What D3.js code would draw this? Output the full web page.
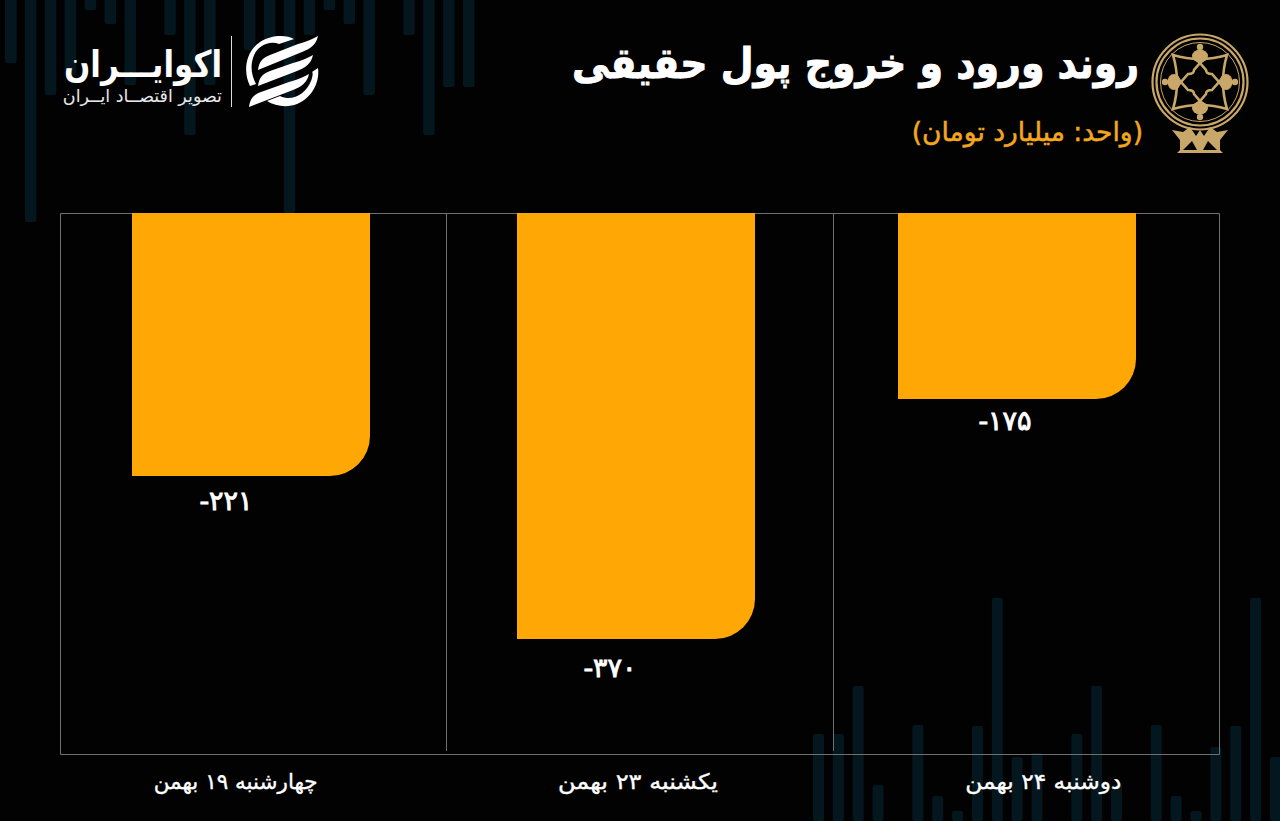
<!DOCTYPE html>
<html lang="fa"><head><meta charset="utf-8">
<script src="https://cdn.jsdelivr.net/npm/d3@7/dist/d3.min.js"></script>
<style>
html,body{margin:0;padding:0;background:#020202;overflow:hidden}
svg{display:block}
text{font-family:"DejaVu Sans","Noto Sans",sans-serif}
</style></head><body><div id="c"></div>
<script>
// Data
const days = ["چهارشنبه ۱۹ بهمن", "یکشنبه ۲۳ بهمن", "دوشنبه ۲۴ بهمن"];
const netFlow = [-221, -370, -175];
const valueLabels = ["\u200E-۲۲۱", "\u200E-۳۷۰", "\u200E-۱۷۵"];
// Layout nudges (the reference places its bars and labels off the band centres)
const barNudge = [0, 2, 0];
const valueNudge = [-25, -24, -12];
const valueDrop = [34, 38, 31];
const dayNudge = [-18, -2, 17];
const dayWidths = [164, 160, 156];
// Decorative background candles: bottom y of top row, top y of bottom row
const topCandleEnds = [63,222,95,75,10,24,85,0,35,135,85,0,50,40,213,35,10,24,95,0,35,135,87,87];
const bottomCandleTops = [734,734,686,785,0,725,796,811,726,598,757,753,0,734,686,785,0,725,796,811,747,726,598,757];

const W = 1280, H = 821;
const svg = d3.select("#c").append("svg").attr("width", W).attr("height", H);
svg.append("rect").attr("width", W).attr("height", H).attr("fill", "#020202");

// background candles
const topX = d3.scaleLinear().domain([0, 23]).range([5, 463]);
const botX = d3.scaleLinear().domain([0, 23]).range([813, 1270]);
const candle = "#04171f";
svg.append("g").selectAll("rect").data(topCandleEnds).join("rect")
  .attr("x", (d,i)=>topX(i)).attr("y", -6).attr("width", 11.5).attr("height", d=>d>0?d+6:0)
  .attr("rx", 2).attr("fill", candle);
svg.append("g").selectAll("rect").data(bottomCandleTops).join("rect")
  .attr("x", (d,i)=>botX(i)).attr("y", d=>d).attr("width", 11)
  .attr("height", d=>d>0?H-d:0).attr("rx", 2).attr("fill", candle);

// scales
const plot = {l:60.5, r:1219.5, t:213.5, b:754.5};
const xGrid = d3.scaleBand().domain(days).range([plot.l, plot.r]);
const xBar = d3.scaleBand().domain(days).range([59.5, 1208.5]).paddingInner(0.3786).paddingOuter(0.1893);
// The picture's bars are not proportional to their printed values, so the value
// scale is piecewise: each printed value maps to the length actually drawn.
const y = d3.scaleLinear().domain([-370,-221,-175,0]).range([639,476,399,213]);

// frame and separators
const gridCol = "#6d6f70";
const g = svg.append("g").attr("fill","none").attr("stroke",gridCol).attr("stroke-width",1);
g.append("path").attr("d",`M${plot.l},${plot.b}V${plot.t}H${plot.r}V${plot.b}H${plot.l}`);
g.selectAll("line").data(days.slice(1)).join("line")
  .attr("x1",d=>Math.floor(xGrid(d))+.5).attr("x2",d=>Math.floor(xGrid(d))+.5)
  .attr("y1",plot.t).attr("y2",751);

// bars, bottom-right corner rounded
const radius = 40;
svg.append("g").selectAll("path").data(netFlow).join("path")
  .attr("fill","#ffa705")
  .attr("d",(d,i)=>{
    const x0 = xBar(days[i]) + barNudge[i], x1 = x0 + xBar.bandwidth();
    const y0 = y(0), y1 = y(d);
    return `M${x0},${y0}H${x1}V${y1-radius}A${radius},${radius} 0 0 1 ${x1-radius},${y1}H${x0}Z`;
  });

// value labels
svg.append("g").selectAll("text").data(netFlow).join("text")
  .attr("x",(d,i)=>xBar(days[i])+xBar.bandwidth()/2+valueNudge[i])
  .attr("y",(d,i)=>y(d)+valueDrop[i])
  .attr("text-anchor","middle").attr("direction","ltr")
  .attr("fill","#fff").attr("stroke","#fff").attr("stroke-width",0.9)
  .attr("font-size",27).attr("font-weight",400)
  .text((d,i)=>valueLabels[i]);

// category labels
svg.append("g").selectAll("text").data(days).join("text")
  .attr("x",(d,i)=>xGrid(d)+xGrid.bandwidth()/2+dayNudge[i]).attr("y",789)
  .attr("text-anchor","middle").attr("direction","rtl")
  .attr("textLength",(d,i)=>dayWidths[i]).attr("lengthAdjust","spacingAndGlyphs")
  .attr("fill","#fff").attr("stroke","#fff").attr("stroke-width",0.35)
  .attr("font-size",21.5).attr("font-weight",400)
  .text(d=>d);

// title block
svg.append("text").attr("x",1139).attr("y",78).attr("direction","rtl").attr("text-anchor","start")
  .attr("textLength",567).attr("lengthAdjust","spacingAndGlyphs")
  .attr("fill","#fff").attr("stroke","#fff").attr("stroke-width",0.9)
  .attr("font-size",42).attr("font-weight",700).text("روند ورود و خروج پول حقیقی");
svg.append("text").attr("x",1143).attr("y",141).attr("direction","rtl").attr("text-anchor","start")
  .attr("fill","#f2a71f").attr("stroke","#f2a71f").attr("stroke-width",0.5)
  .attr("font-size",26.5).attr("font-weight",400).text("(واحد: میلیارد تومان)");

// brand block
svg.append("text").attr("x",222).attr("y",77).attr("direction","rtl").attr("text-anchor","start")
  .attr("textLength",158).attr("lengthAdjust","spacingAndGlyphs")
  .attr("fill","#fff").attr("font-size",37).attr("font-weight",700).text("اکوایـــران");
svg.append("text").attr("x",222).attr("y",102).attr("direction","rtl").attr("text-anchor","start")
  .attr("fill","#e8e8e8").attr("font-size",17.5).text("تصویر اقتصــاد ایــران");
svg.append("line").attr("x1",231.5).attr("x2",231.5).attr("y1",36).attr("y2",107).attr("stroke","#ddd").attr("stroke-width",1);

// brand mark
const mark = svg.append("g").attr("fill","#fff");
mark.append("path").attr("d","M250,86 C243,72 245,52 260,42 C272,34 287,35 294,39 L279,44 C268,40 256,47 253,58 C250,68 252,76 256,84 Z");
mark.append("path").attr("d","M318,68 C320,82 312,98 297,104 C287,108 275,106 267,101 L280,96 C292,102 306,94 311,81 C313,76 313,72 312,72 Z");
mark.selectAll(".s").data([[318,36,258,70,263,64],[313,55,258,86,264,78],[309,74,249,107,258,96]]).join("path")
  .attr("d",d=>`M${d[0]},${d[1]} C${d[0]-2},${d[1]+9} ${d[0]-8},${d[1]+13} ${d[0]-16},${d[1]+16} L${d[2]},${d[3]} C${d[2]+1},${d[3]-8} ${d[2]+4},${d[3]-12} ${d[2]+12},${d[3]-15} L${d[0]-20},${d[1]+8} C${d[0]-10},${d[1]+5} ${d[0]-5},${d[1]+3} ${d[0]},${d[1]} Z`);

// exchange emblem
const gold = "#c8a768";
const em = svg.append("g").attr("transform","translate(1200,82)").attr("fill","none").attr("stroke",gold);
[[47.5,2.2],[43.5,2.2],[39.5,1]].forEach(([r,w])=>em.append("circle").attr("r",r).attr("stroke-width",w));
em.append("path").attr("stroke-width",2.6)
  .attr("d","M-27,-27 Q0,-19 27,-27 Q19,0 27,27 Q0,19 -27,27 Q-19,0 -27,-27 Z");
em.append("path").attr("stroke-width",2.6)
  .attr("d","M0,-19 L6,-12 Q6,-8 12,-8 L19,0 L12,8 Q6,8 6,12 L0,19 L-6,12 Q-6,8 -12,8 L-19,0 L-12,-8 Q-6,-8 -6,-12 Z");
em.append("g").attr("stroke","none").attr("fill",gold).selectAll("g").data([0,90,180,270]).join("g")
  .attr("transform",d=>`rotate(${d})`).call(s=>{
    s.append("ellipse").attr("cy",-26).attr("rx",8).attr("ry",6.5);
    s.append("circle").attr("cy",-35).attr("r",3.2);
    s.append("path").attr("d","M-6,-23 L0,-17 L6,-23 Z");
  });
const base = svg.append("g").attr("transform","translate(1200,0)").attr("fill",gold);
base.append("path").attr("fill-rule","evenodd")
  .attr("d","M-28,130 L-17,132 L-10,127 L-4,136 L0,130 L4,136 L10,127 L17,132 L28,130 L20,140 L20,150 L23,153 L-23,153 L-20,150 L-20,140 Z M-17,150 L-3,150 L-8,141 Z M17,150 L3,150 L8,141 Z");
</script></body></html>
